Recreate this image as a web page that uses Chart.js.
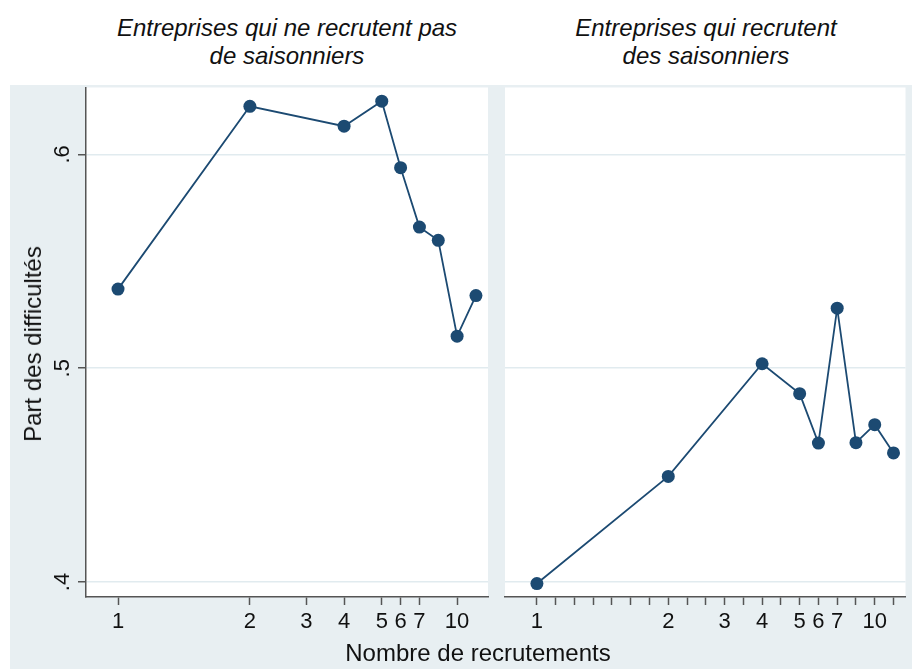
<!DOCTYPE html>
<html>
<head>
<meta charset="utf-8">
<script src="https://cdn.jsdelivr.net/npm/chart.js@4.4.1/dist/chart.umd.min.js"></script>
<style>
  html, body { margin: 0; padding: 0; background: #fff; }
  body { width: 912px; height: 669px; position: relative; overflow: hidden; font-family: "Liberation Sans", Arial, sans-serif; }
  #bg { position: absolute; left: 10px; top: 85px; width: 902px; height: 584px; background: #e8eff2; }
  .panel { position: absolute; top: 81px; height: 588px; }
  .ptitle { position: absolute; top: 14px; width: 420px; text-align: center; font-style: italic; font-size: 24px; line-height: 28px; color: #111; }
  #ytitle { position: absolute; left: 33px; top: 344px; transform: translate(-50%, -50%) rotate(-90deg); white-space: nowrap; font-size: 24px; color: #111; }
  #xtitle { position: absolute; left: 478px; top: 641px; transform: translateX(-50%); white-space: nowrap; font-size: 24px; line-height: 24px; color: #111; }
</style>
</head>
<body>
<div id="bg"></div>
<div class="ptitle" style="left:77px">Entreprises qui ne recrutent pas<br>de saisonniers</div>
<div class="ptitle" style="left:496px">Entreprises qui recrutent<br>des saisonniers</div>
<div class="panel" style="left:0; width:497px"><canvas id="left"></canvas></div>
<div class="panel" style="left:497px; width:415px"><canvas id="right"></canvas></div>
<div id="ytitle">Part des difficultés</div>
<div id="xtitle">Nombre de recrutements</div>
<script>
// axis positions of the plotted classes and of the labelled ticks
const xPos = [0, 7, 12, 14, 15, 16, 17, 18, 19];
const xTickPos = [0, 7, 10, 12, 14, 15, 16, 18];
const xTickLabels = ["1", "2", "3", "4", "5", "6", "7", "10"];
const yTicks = [0.4, 0.5, 0.6];

// share of difficulties
const sansSaisonniers = [0.537, 0.6225, 0.6132, 0.6249, 0.5938, 0.566, 0.5598, 0.515, 0.534];
const avecSaisonniers = [0.3993, 0.4494, 0.5021, 0.4881, 0.465, 0.5281, 0.4652, 0.4736, 0.4604];

const navy = "#1c4a72";
const axisGray = "#555";
const tickFont = { family: '"Liberation Sans Narrow", "Liberation Sans", Arial', size: 22 };

const whiteArea = {
  id: "whiteArea",
  beforeDraw(chart) {
    const a = chart.chartArea;
    chart.ctx.save();
    chart.ctx.fillStyle = "#fff";
    chart.ctx.fillRect(a.left, a.top, a.right - a.left, a.bottom - a.top);
    chart.ctx.restore();
  }
};

// Stata-style vertical y labels
const rotatedYLabels = {
  id: "rotatedYLabels",
  afterDraw(chart) {
    const y = chart.scales.y;
    const ctx = chart.ctx;
    ctx.save();
    ctx.fillStyle = "#111";
    ctx.font = tickFont.size + "px " + tickFont.family;
    ctx.textAlign = "center";
    ctx.textBaseline = "middle";
    yTicks.forEach(v => {
      ctx.save();
      ctx.translate(y.left + 63, y.getPixelForValue(v));
      ctx.rotate(-Math.PI / 2);
      ctx.fillText(String(v).replace(/^0/, ""), 0, 0);
      ctx.restore();
    });
    ctx.restore();
  }
};

function makePanel(id, values, opts) {
  const pts = xPos.map((x, i) => ({ x: x, y: values[i] }));
  return new Chart(document.getElementById(id), {
    type: "line",
    data: {
      datasets: [{
        data: pts,
        borderColor: navy,
        backgroundColor: navy,
        borderWidth: 1.8,
        pointRadius: 6.5,
        pointHoverRadius: 6.5,
        pointBorderWidth: 0,
        tension: 0
      }]
    },
    options: {
      responsive: true,
      maintainAspectRatio: false,
      animation: false,
      layout: { padding: opts.padding },
      plugins: { legend: { display: false }, tooltip: { enabled: false } },
      scales: {
        x: {
          type: "linear",
          min: -1.7,
          max: 19.64,
          afterBuildTicks: s => { s.ticks = opts.xTicks.map(v => ({ value: v })); },
          afterFit: s => { s.height = 72; },
          ticks: {
            autoSkip: false,
            maxRotation: 0,
            padding: 4,
            color: "#111",
            font: tickFont,
            callback: v => {
              const k = xTickPos.indexOf(v);
              return k >= 0 ? xTickLabels[k] : "";
            }
          },
          grid: { drawOnChartArea: false, tickLength: 8, tickColor: axisGray, tickWidth: 1.5 },
          border: { display: true, color: axisGray, width: 1.5 }
        },
        y: {
          min: 0.393,
          max: 0.6313,
          afterBuildTicks: s => { s.ticks = yTicks.map(v => ({ value: v })); },
          afterFit: s => { s.width = opts.yWidth; },
          ticks: { display: false },
          grid: { color: "#e1ebef", lineWidth: 1.5, drawTicks: opts.yAxis, tickLength: 8, tickColor: axisGray, tickWidth: 1.5 },
          border: { display: opts.yAxis, color: axisGray, width: 1.5 }
        }
      }
    },
    plugins: opts.yAxis ? [whiteArea, rotatedYLabels] : [whiteArea]
  });
}

const allTicks = [];
for (let i = 0; i <= 19; i++) allTicks.push(i);

makePanel("left", sansSaisonniers, {
  padding: { left: 0, top: 2, right: 9, bottom: 0 },
  xTicks: xTickPos,
  yWidth: 86,
  yAxis: true
});
makePanel("right", avecSaisonniers, {
  padding: { left: 8, top: 2, right: 5, bottom: 0 },
  xTicks: allTicks,
  yWidth: 0,
  yAxis: false
});
</script>
</body>
</html>
